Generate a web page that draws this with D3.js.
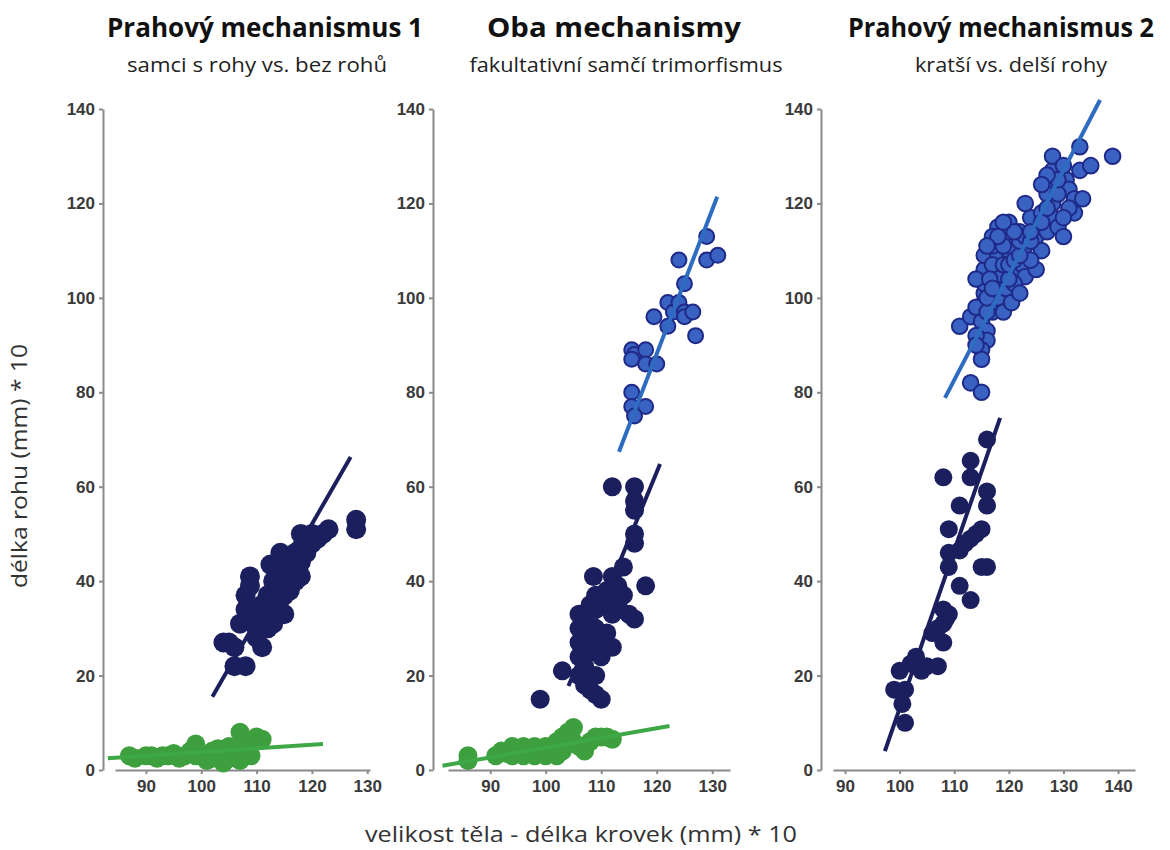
<!DOCTYPE html>
<html>
<head>
<meta charset="utf-8">
<script src="https://cdnjs.cloudflare.com/ajax/libs/d3/7.8.5/d3.min.js"></script>
<style>
	body { margin: 0; background: #fff; }
</style>
</head>
<body>
<script>

// tick values
var yTicks = [0, 20, 40, 60, 80, 100, 120, 140];
var xTicksA = [90, 100, 110, 120, 130];
var xTicksB = [90, 100, 110, 120, 130, 140];

// titles
var titles1 = ["Prahový mechanismus 1", "samci s rohy vs. bez rohů"];
var titles2 = ["Oba mechanismy", "fakultativní samčí trimorfismus"];
var titles3 = ["Prahový mechanismus 2", "kratší vs. delší rohy"];
var yLabel = "délka rohu (mm) * 10";
var xLabel = "velikost těla - délka krovek (mm) * 10";

// panel 1 : [body size, horn length]
var green1 = [[87,3],[88,2.5],[90,3],[91,3],[92,2.5],[93,3],[94,3],[95,3.5],[96,2.5],[97,3],
	[98,4],[99,5.5],[99,3],[100,3],[101,2],[102,4],[102,2.5],[103,4.5],[104,3],[104,1.5],
	[105,5],[105,2.5],[106,3.5],[107,8],[107,4],[107,2],[108,6],[108,3],[109,6],[109,3],
	[110,7],[111,6.5]];
var dark1 = [[104,27],[105,27],[106,26],[106,22],[108,22],[107,31],[108,34],[108,37],[108.8,39],[108.8,41],
	[109,33],[110,30],[110,28],[111,26],[111,32],[111,35],[112,30],[112,33],[112,37],[112.5,43.5],
	[113,31],[113,34],[113,38],[113,40],[114,35],[114,41],[114,43],[114.3,46],[115,33],[115,37],
	[115,40],[115,44],[116,38],[116,42],[116,45],[117,40],[117,43],[117,46],[118,41],[118,44],
	[118,47],[118,50],[119,46],[120,48],[120,50],[121,49],[122,50],[123,51],[128,53],[128,51]];
var lines1 = [[83.1,2.5,122,5.5,"green"],[102,15.5,127,66.3,"dark"]];

// panel 2
var green2 = [[86,2],[86,3],[91,3],[92,4],[93,3.5],[94,5],[94,3],[95,4],[96,5],[96,3],
	[97,4.5],[98,5],[98,3],[99,4],[100,5],[100,3],[101,4],[102,6],[102,3],[103,7],
	[103,4],[104,8],[104,5.5],[105,9],[105,6],[106,5],[107,4],[108,6],[109,7],[110,7],
	[111,7],[112,6.5]];
var dark2 = [[99,15],[103,21],[106,20],[106,24],[106,27],[106,30],[106,33],[107,18],[107,22],[107,26],
	[107,29],[107,32],[108,17],[108,25],[108,28],[108,35],[109,16],[109,20],[109,30],[109,34],
	[109,37],[110,15],[110,24],[110,27],[110,36],[111,38],[111,29],[112,26],[112,33],[112,36],
	[112,41],[113,35],[113,39],[114,43],[114,37],[115,33],[116,32],[116,48],[116,50],[116,55],
	[116,57],[116,60],[112,60],[118,39],[108.6,41]];
var blue2 = [[115.5,89],[116,88],[118,89],[115.5,87],[118,86],[120,86],[115.5,80],[115.5,77],[118,77],[116,75],
	[119.5,96],[122,99],[122,94],[123,97],[124,99],[125,97],[125,96],[126.5,97],[127,92],[125,103],
	[124,108],[129,113],[129,108],[131,109]];
var lines2 = [[81.4,0.9,122.3,9.3,"green"],[104.1,17.8,120.6,64.8,"dark"],[113.2,67.4,130.9,121.4,"blue"]];

// panel 3
var dark3 = [[99,17],[101,17],[100.5,14],[101,10],[100,21],[102,22.5],[103,24],[104,21],[105,22],[107,22],
	[106,29],[107,30],[108,34],[108,31],[108,27],[108.5,32],[109,33],[109,43],[109,46],[109,51],
	[111,46.5],[112,48],[113,49],[111,56],[111,39],[113,36],[113,62],[113,65.5],[114,50],[115,51],
	[115,43],[116,43],[116,56],[116,59],[108,62],[116,70]];
var blue3 = [[113,82],[115,80],[111,94],[113,96],[115,95],[116,93],[116,91],[115,89],[115,87],[115.5,99],
	[115.5,101],[115.5,103],[115.5,106],[115.5,109],[117,97],[118,100],[118,103],[118,105],[118,109],[119,97],
	[119.5,102],[120.5,99],[121,106],[122.5,107],[123,104.5],[125,106],[117,107],[117,111],[118,115],[120,116],
	[119.5,113],[121,111],[122,114],[123,111],[125,115],[125,113],[127,114],[124,117],[123,120],[126,118],
	[128,120],[128,117],[129,115],[130,113],[128,124],[128,127],[128,130],[130.5,125],[131,123],[132,121],
	[132,118],[133.5,121],[133,127],[133,132],[135,128],[139,130],[130,128],[127,122],[126,110],[120,110],
	[124,108],[121,103],[122,101],[114,98],[114,104],[116,97],[116,100],[116.5,104],[117,102],[117,113],
	[119,107],[119,111],[120,104],[120,107],[121,108],[122,109],[122,112],[123,113],[124,112],[124,114],
	[126,116],[127,119],[129,122],[129,125],[131,119],[130,117],[127,126],[126,124],[121,114],[119,116],
	[118,113],[116,111],[114,92],[114,90]];
var lines3 = [[97.3,4,118.4,74.6,"dark"],[108.3,78.8,136.7,141.9,"blue"]];

var width = 1170;
var height = 850;

var fill = { dark: "#1b1f5e", blue: "#3a62c2", green: "#3e9f3e" };
var lineColor = { dark: "#1b1f5e", blue: "#2d6cc0", green: "#3fa846" };

var svg = d3.select("body")
	.append("svg")
	.attr("width", width)
	.attr("height", height);

// same vertical scale for all three panels
var y = d3.scaleLinear().domain([0, 140]).range([770, 109]);

var panels = [
	{ titles: titles1, tx: 265, sx: 257, tw: 316, sw: 260, axisX: 103,
	  xDomain: [84.4, 130.5], xRange: [115, 370], xTicks: xTicksA,
	  groups: [[green1, "green", 9.5], [dark1, "dark", 10]], lines: lines1 },
	{ titles: titles2, tx: 614, sx: 626, tw: 254, sw: 313, axisX: 433,
	  xDomain: [82.4, 133.2], xRange: [448, 730], xTicks: xTicksA,
	  groups: [[green2, "green", 9.5], [dark2, "dark", 9.5], [blue2, "blue", 7.5]], lines: lines2 },
	{ titles: titles3, tx: 1001, sx: 1011, tw: 306, sw: 192, axisX: 821,
	  xDomain: [87.8, 143.1], xRange: [833, 1135], xTicks: xTicksB,
	  groups: [[dark3, "dark", 9], [blue3, "blue", 7.8]], lines: lines3 }
];

panels.forEach(function(p) {
	var x = d3.scaleLinear().domain(p.xDomain).range(p.xRange);
	var g = svg.append("g");

	// titles
	g.append("text")
		.attr("x", p.tx).attr("y", 37)
		.attr("text-anchor", "middle")
		.attr("textLength", p.tw).attr("lengthAdjust", "spacingAndGlyphs")
		.style("font-family", "Open Sans").style("font-weight", "bold").style("font-size", "26px")
		.style("fill", "#111")
		.text(p.titles[0]);
	g.append("text")
		.attr("x", p.sx).attr("y", 72)
		.attr("text-anchor", "middle")
		.attr("textLength", p.sw).attr("lengthAdjust", "spacingAndGlyphs")
		.style("font-family", "Open Sans").style("font-size", "20px")
		.style("fill", "#222")
		.text(p.titles[1]);

	// axes
	var yAxis = d3.axisLeft(y).tickValues(yTicks).tickSize(4).tickSizeOuter(0).tickPadding(4);
	var xAxis = d3.axisBottom(x).tickValues(p.xTicks).tickSize(4).tickSizeOuter(0).tickPadding(6);

	var ya = g.append("g")
		.attr("transform", "translate(" + p.axisX + ",0)")
		.call(yAxis);
	var xa = g.append("g")
		.attr("transform", "translate(0,770)")
		.call(xAxis);

	[ya, xa].forEach(function(a) {
		a.selectAll("path, line").style("stroke", "#8a8a8a").style("stroke-width", 2);
		a.selectAll("text")
			.style("font-family", "Liberation Sans").style("font-weight", "bold")
			.style("font-size", "17px").style("fill", "#3a3a3a");
	});

	// points
	p.groups.forEach(function(grp) {
		g.append("g").selectAll("circle")
			.data(grp[0])
			.enter()
			.append("circle")
			.attr("cx", function(d) { return x(d[0]); })
			.attr("cy", function(d) { return y(d[1]); })
			.attr("r", grp[2])
			.style("fill", fill[grp[1]])
			.style("stroke", grp[1] == "blue" ? "#1f2a88" : "none")
			.style("stroke-width", 2);
	});

	// regression lines
	g.selectAll("line.fit")
		.data(p.lines)
		.enter()
		.append("line")
		.attr("class", "fit")
		.attr("x1", function(d) { return x(d[0]); })
		.attr("y1", function(d) { return y(d[1]); })
		.attr("x2", function(d) { return x(d[2]); })
		.attr("y2", function(d) { return y(d[3]); })
		.style("stroke", function(d) { return lineColor[d[4]]; })
		.style("stroke-width", 4);
});

// shared axis labels
svg.append("text")
	.attr("transform", "translate(27,466) rotate(-90)")
	.attr("text-anchor", "middle")
	.attr("textLength", 244).attr("lengthAdjust", "spacingAndGlyphs")
	.style("font-family", "Open Sans").style("font-size", "22px").style("fill", "#333")
	.text(yLabel);

svg.append("text")
	.attr("x", 581).attr("y", 842)
	.attr("text-anchor", "middle")
	.attr("textLength", 432).attr("lengthAdjust", "spacingAndGlyphs")
	.style("font-family", "Open Sans").style("font-size", "22px").style("fill", "#333")
	.text(xLabel);

</script>
</body>
</html>
